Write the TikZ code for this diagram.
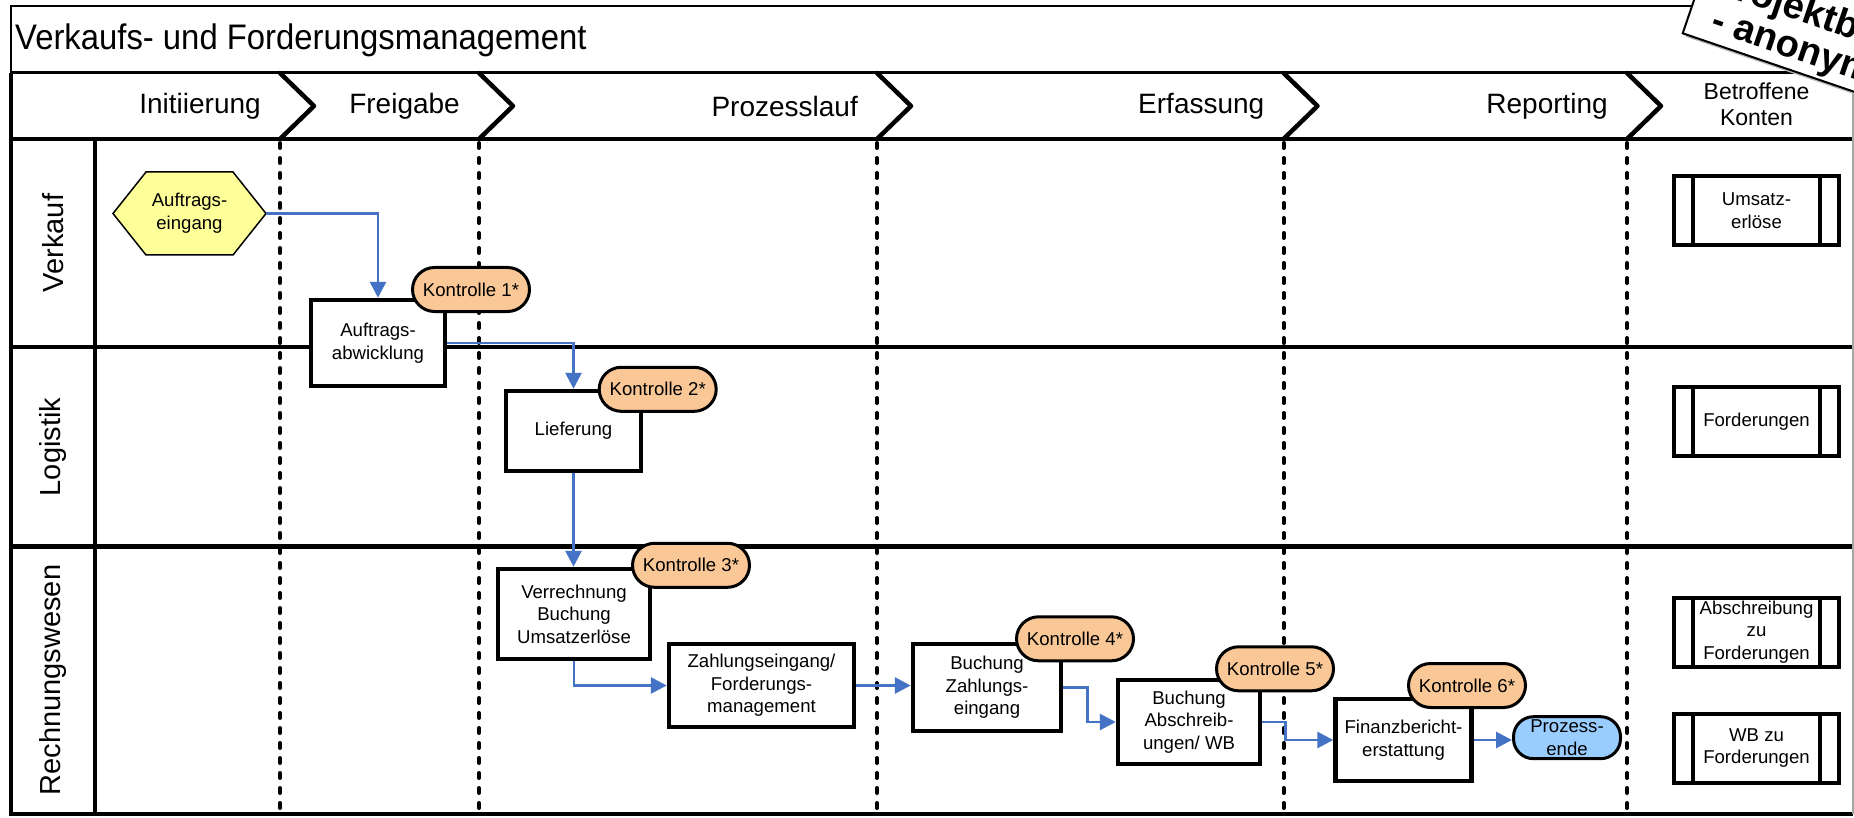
\documentclass[tikz,border=0pt]{standalone}
\usepackage{fontspec}
\setmainfont{Liberation Sans}
\usetikzlibrary{arrows.meta,calc}
\definecolor{flowblue}{RGB}{68,114,196}
\definecolor{kfill}{RGB}{250,200,150}
\definecolor{hexfill}{RGB}{255,255,153}
\definecolor{endfill}{RGB}{153,204,255}
\newcommand{\bxf}{\fontsize{18.6}{22.6}\selectfont}
\begin{document}
\begin{tikzpicture}[x=1pt,y=-1pt,
  rule/.style={line width=4.5pt},
  thinrule/.style={line width=1.5pt},
  phase/.style={line width=4.5pt, line join=round, line cap=round},
  divider/.style={line width=4pt, line cap=round, dash pattern=on 5pt off 10pt},
  hdr/.style={font=\fontsize{28}{33}\selectfont, inner sep=0pt, anchor=east},
  lane/.style={font=\fontsize{29}{34}\selectfont, rotate=90, inner sep=0pt},
  pbox/.style={draw, line width=4.5pt, fill=white, align=center, font=\bxf, inner sep=0pt},
  kbox/.style={draw, line width=3pt, fill=kfill, rounded corners=22pt, minimum width=117pt, minimum height=44pt, inner sep=0pt, font=\bxf},
  endbox/.style={draw, line width=3pt, fill=endfill, rounded corners=20pt, minimum width=107pt, minimum height=42pt, inner sep=0pt, align=center, font=\bxf},
  konto/.style={draw, line width=4pt, fill=white, minimum width=165pt, minimum height=69pt, inner sep=0pt, outer sep=0pt, align=center, font=\bxf},
  kline/.style={line width=4pt},
  flow/.style={draw=flowblue, line width=2.8pt, -{Triangle[length=16pt,width=16pt]}},
  stamptext/.style={font=\fontsize{38}{38}\selectfont\bfseries, inner sep=0pt, anchor=base west},
]
\useasboundingbox (0,0) rectangle (1854,818);
\clip (0,0) rectangle (1854,818);
\fill[white] (0,0) rectangle (1854,818);

% title box
\draw[thinrule] (11,6) rectangle (1853,73);
\node[font=\fontsize{35.5}{40}\selectfont, xscale=0.925, anchor=west, inner sep=0pt] (title) at (15,40) {Verkaufs- und Forderungsmanagement};

% frame and lanes
\draw[line width=3pt] (11,73) -- (1853,73);
\draw[rule] (11,139) -- (1853,139);
\draw[rule] (11,347) -- (1853,347);
\draw[rule] (11,546.5) -- (1853,546.5);
\draw[rule] (95,139) -- (95,814);
\draw[rule, line join=miter] (11,73) -- (11,814) -- (1853,814);
\draw[line width=1.2pt, gray!70] (1853,73) -- (1853,814);

% phase chevrons
\foreach \x in {280,479,877,1283.5,1627} {
  \draw[phase] (\x,73) -- (\x+34,106) -- (\x,139);
}
\node[hdr] (h1) at (261,106) {Initiierung};
\node[hdr] (h2) at (460,106) {Freigabe};
\node[hdr] (h3) at (858,106) {Prozesslauf};
\node[hdr] (h4) at (1264.5,106) {Erfassung};
\node[hdr] (h5) at (1608,106) {Reporting};
\node[font=\fontsize{23}{26}\selectfont, align=center, inner sep=0pt] (h6) at (1756.5,104) {Betroffene\\Konten};

% lane labels
\node[lane] (l1) at (53,243) {Verkauf};
\node[lane] (l2) at (53,447) {Logistik};
\node[lane] (l3) at (53,680) {Rechnungswesen};

% dividers
\foreach \x in {280,479,877,1283.5,1627} {
  \draw[divider] (\x,143) -- (\x,812);
}

% start event
\node[minimum width=153pt, minimum height=83pt, inner sep=0pt, outer sep=0pt] (hex) at (189.5,213.5) {};
\filldraw[fill=hexfill, line width=1.5pt] (hex.west) -- ($(hex.north west)+(33,0)$) -- ($(hex.north east)+(-33,0)$) -- (hex.east) -- ($(hex.south east)+(-33,0)$) -- ($(hex.south west)+(33,0)$) -- cycle;
\node[font=\bxf, align=center, inner sep=0pt] (hextext) at (hex.center) {Auftrags-\\eingang};

% process boxes
\node[pbox, minimum width=134pt, minimum height=86pt] (abw) at (378,343) {Auftrags-\\abwicklung};
\node[pbox, minimum width=135pt, minimum height=80pt] (lief) at (573.5,431) {Lieferung};
\node[pbox, minimum width=152pt, minimum height=90pt] (verr) at (574,614) {Verrechnung\\Buchung\\Umsatzerlöse};
\node[pbox, minimum width=185pt, minimum height=83pt] (zahl) at (761.5,685.5) {Zahlungseingang/\\Forderungs-\\management};
\node[pbox, minimum width=148pt, minimum height=87pt] (bz) at (987,687.5) {Buchung\\Zahlungs-\\eingang};
\node[pbox, minimum width=142pt, minimum height=84pt] (ba) at (1189,722) {Buchung\\Abschreib-\\ungen/ WB};
\node[pbox, minimum width=136pt, minimum height=82pt] (fb) at (1403.5,740) {Finanzbericht-\\erstattung};
\node[endbox] (pe) at (1567,737.7) {Prozess-\\ende};

% flows
\draw[flow] (hex.east) -| (abw.north);
\draw[flow] (abw.east) -| (lief.north);
\draw[flow] (lief.south) -- (lief.south |- verr.north);
\draw[flow] (verr.south) |- (zahl.west);
\draw[flow] (zahl.east) -- (zahl.east -| bz.west);
\draw[flow] (bz.east) -- ++(24,0) |- (ba.west);
\draw[flow] (ba.east) -- ++(23,0) |- (fb.west);
\draw[flow] (fb.east) -- (fb.east -| pe.west);

% controls
\node[kbox] (k1) at (471,289.5) {Kontrolle 1*};
\node[kbox] (k2) at (657.7,389.3) {Kontrolle 2*};
\node[kbox] (k3) at (691,565.3) {Kontrolle 3*};
\node[kbox] (k4) at (1075,638.8) {Kontrolle 4*};
\node[kbox] (k5) at (1275,668.8) {Kontrolle 5*};
\node[kbox] (k6) at (1467,685.5) {Kontrolle 6*};

% accounts
\node[konto] (uml) at (1756.5,210.5) {Umsatz-\\erlöse};
\node[konto] (ford) at (1756.5,421.5) {Forderungen};
\node[konto] (absch) at (1756.5,632) {Abschreibung\\zu\\Forderungen};
\node[konto] (wb) at (1756.5,748) {WB zu\\Forderungen};
\foreach \n in {uml,ford,absch,wb} {
  \draw[kline] ($(\n.north west)+(19.3,0)$) -- ($(\n.south west)+(19.3,0)$);
  \draw[kline] ($(\n.north east)+(-19,0)$) -- ($(\n.south east)+(-19,0)$);
}

% stamp
\begin{scope}[shift={(1685.7,36.8)}, rotate=-18.83]
  \fill[gray!55] (0,0) rectangle (500,-220);
\end{scope}
\begin{scope}[shift={(1682.7,33.3)}, rotate=-18.83, transform shape]
  \draw[line width=2pt, fill=white] (0,0) rectangle (500,-220);
  \node[stamptext] (st1) at (12,-49) {Projektbericht};
  \node[stamptext] (st2) at (24.6,-11.6) {- anonymisiert -};
\end{scope}
\end{tikzpicture}
\end{document}
